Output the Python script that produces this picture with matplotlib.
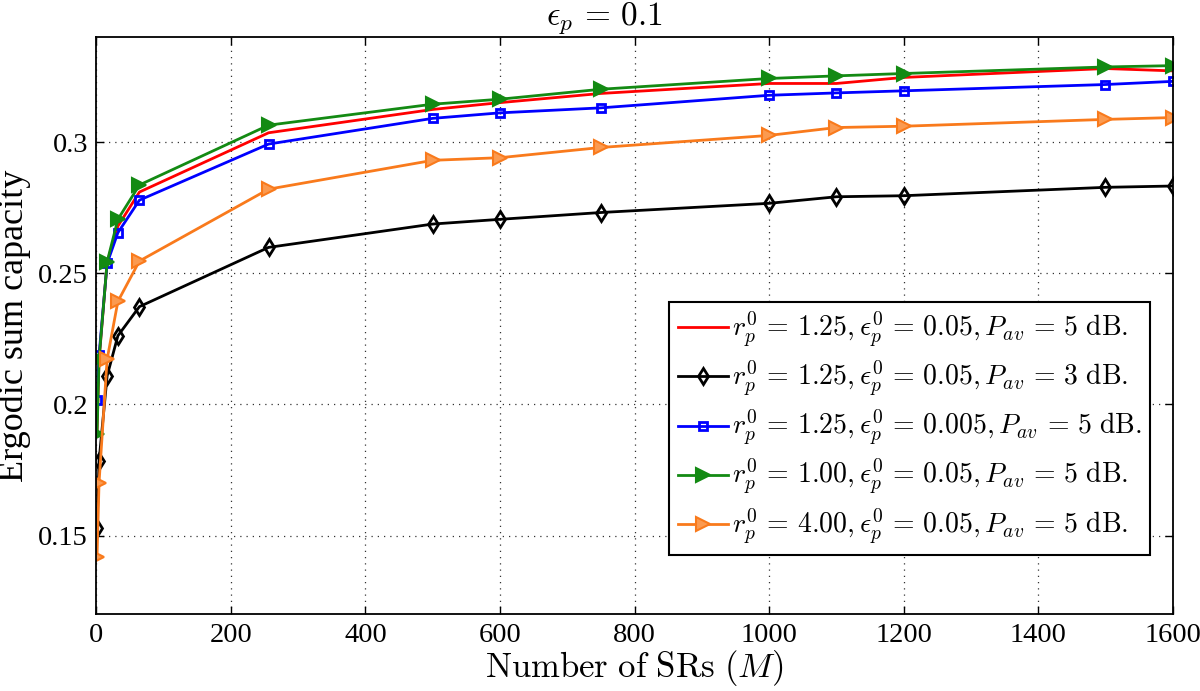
import numpy as np
import matplotlib
matplotlib.use("Agg")
import matplotlib.pyplot as plt

plt.rcParams['font.family'] = ['Liberation Serif', 'DejaVu Serif']
plt.rcParams['mathtext.fontset'] = 'cm'

# number of SRs
M = [1, 4, 16, 32, 64, 256, 500, 600, 750, 1000, 1100, 1200, 1500, 1600]

# ergodic sum capacity for each setting
cap_r125_e005_p5 = [0.190, 0.217, 0.2542, 0.268, 0.281, 0.3036, 0.3125, 0.3151, 0.3186,
                    0.3224, 0.3224, 0.3247, 0.3281, 0.3272]
cap_r125_e005_p3 = [0.1530, 0.1785, 0.2109, 0.2262, 0.2373, 0.2599, 0.2688, 0.2706, 0.2732,
                    0.2767, 0.2792, 0.2796, 0.2828, 0.2833]
cap_r125_e0005_p5 = [0.2016, 0.2188, 0.2538, 0.2655, 0.2779, 0.2993, 0.3091, 0.3112, 0.3131,
                     0.3179, 0.3188, 0.3196, 0.3220, 0.3232]
cap_r100_e005_p5 = [0.1887, 0.2172, 0.2544, 0.2706, 0.2837, 0.3065, 0.3145, 0.3164, 0.3202,
                    0.3243, 0.3253, 0.3262, 0.3287, 0.3292]
cap_r400_e005_p5 = [0.1420, 0.1702, 0.2172, 0.2393, 0.2547, 0.2821, 0.2931, 0.2941, 0.2980,
                    0.3026, 0.3056, 0.3061, 0.3087, 0.3094]

labels = [
    r'$r_p^0 \,=\, 1.25, \epsilon_p^0 \,=\, 0.05, P_{av} \,=\, 5\ \mathrm{dB.}$',
    r'$r_p^0 \,=\, 1.25, \epsilon_p^0 \,=\, 0.05, P_{av} \,=\, 3\ \mathrm{dB.}$',
    r'$r_p^0 \,=\, 1.25, \epsilon_p^0 \,=\, 0.005, P_{av} \,=\, 5\ \mathrm{dB.}$',
    r'$r_p^0 \,=\, 1.00, \epsilon_p^0 \,=\, 0.05, P_{av} \,=\, 5\ \mathrm{dB.}$',
    r'$r_p^0 \,=\, 4.00, \epsilon_p^0 \,=\, 0.05, P_{av} \,=\, 5\ \mathrm{dB.}$',
]

fig = plt.figure(figsize=(12, 6.91), dpi=100)
ax = fig.add_axes([0.0803, 0.111, 0.897, 0.835])

lw = 2.0
ax.plot(M, cap_r125_e005_p5, color='#ff0000', lw=lw, label=labels[0])
ax.plot(M, cap_r125_e005_p3, color='black', lw=lw, marker='d', ms=8,
        mfc='none', mew=2, label=labels[1])
ax.plot(M, cap_r125_e0005_p5, color='#0000ff', lw=lw, marker='s', ms=6,
        mfc='none', mew=2, label=labels[2])
ax.plot(M, cap_r100_e005_p5, color='#138a13', lw=lw, marker='>', ms=10,
        mfc='#138a13', mew=1.5, label=labels[3])
ax.plot(M, cap_r400_e005_p5, color='#f97a1c', lw=lw, marker='>', ms=10,
        mfc='#fb9a50', mew=1.5, label=labels[4])

ax.set_xlim(0, 1600)
ax.set_ylim(0.12, 0.34)
ax.set_xticks(np.arange(0, 1601, 200))
ax.set_yticks([0.15, 0.2, 0.25, 0.3])
ax.set_yticklabels(['0.15', '0.2', '0.25', '0.3'])
ax.tick_params(direction='in', top=True, right=True, labelsize=20.5, length=6, width=1, pad=6)
ax.grid(True, linestyle=(0, (1, 4)), color='#333333', linewidth=0.9)
for s in ax.spines.values():
    s.set_linewidth(1.3)

ax.set_xlabel(r'$\mathrm{Number\ of\ SRs\ }(M)$', fontsize=25, labelpad=0)
ax.set_ylabel('Ergodic sum capacity', fontsize=26, labelpad=5)
ax.set_title(r'$\epsilon_p \,=\, 0.1$', fontsize=24, pad=9, x=0.472)

leg = ax.legend(loc='lower right', bbox_to_anchor=(0.979, 0.103), borderaxespad=0,
                fontsize=20, fancybox=False, edgecolor='black', framealpha=1,
                handlelength=1.8, handletextpad=0.15, labelspacing=0.32,
                borderpad=0.3)
leg.get_frame().set_linewidth(1.5)

fig.savefig('out.png', dpi=100)
